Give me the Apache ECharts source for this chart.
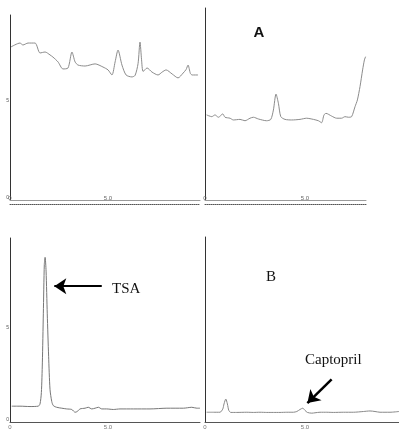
<!DOCTYPE html>
<html><head><meta charset="utf-8">
<script src="https://cdn.jsdelivr.net/npm/echarts@6/dist/echarts.min.js"></script>
<style>html,body{margin:0;padding:0;background:#fff}#c{width:399px;height:430px}</style>
</head><body><div id="c"></div>
<script>
// Panel A, left trace (time, response)
const aLeftX = [0.05,0.51,0.66,0.92,1.28,1.53,1.79,2.04,2.19,2.45,2.70,2.96,3.16,3.32,3.47,3.83,4.34,4.74,5.00,5.20,5.36,5.51,5.71,5.92,6.22,6.38,6.53,6.63,6.71,6.79,6.99,7.24,7.55,7.76,7.96,8.27,8.57,8.83,8.98,9.08,9.20,9.29,9.59];
const aLeftY = [7.86,8.06,7.96,8.06,8.06,7.55,7.60,7.45,7.34,7.09,6.73,6.78,7.60,7.09,6.93,6.88,6.99,6.83,6.68,6.42,7.09,7.70,6.93,6.42,6.32,6.40,7.00,8.11,7.20,6.60,6.78,6.57,6.42,6.57,6.68,6.47,6.27,6.52,6.70,6.93,6.50,6.42,6.42];
// Panel A, right trace
const aRightX = [0.08,0.34,0.50,0.67,0.89,1.00,1.25,1.42,1.75,2.00,2.25,2.42,2.67,3.08,3.29,3.42,3.55,3.67,3.79,4.00,4.33,4.75,5.08,5.42,5.67,5.83,5.95,6.05,6.33,6.58,6.83,7.00,7.17,7.33,7.50,7.62,7.75,7.88,7.97,8.03];
const aRightY = [4.37,4.28,4.37,4.25,4.42,4.25,4.20,4.11,4.14,4.07,4.20,4.25,4.16,4.07,4.14,4.62,5.44,4.97,4.28,4.14,4.11,4.14,4.20,4.14,4.07,3.97,4.37,4.45,4.31,4.20,4.20,4.28,4.25,4.28,4.79,5.14,5.82,6.68,7.19,7.36];
// Panel B, left trace
const bLeftX = [0.09,0.51,1.02,1.44,1.53,1.60,1.65,1.70,1.75,1.79,1.84,1.90,1.97,2.04,2.13,2.21,2.38,2.64,2.89,3.15,3.32,3.43,3.57,3.83,3.99,4.17,4.34,4.51,4.68,4.93,5.27,5.61,6.29,7.14,8.00,8.84,9.27,9.53,9.69];
const bLeftY = [0.86,0.86,0.84,0.86,0.98,1.60,3.21,5.88,8.56,8.95,8.20,5.88,3.57,1.78,1.11,0.89,0.80,0.75,0.71,0.68,0.53,0.57,0.71,0.75,0.80,0.71,0.75,0.80,0.71,0.71,0.68,0.71,0.71,0.71,0.75,0.75,0.80,0.75,0.75];
// Panel B, right trace
const bRightX = [0.08,0.42,0.75,0.89,0.95,1.04,1.12,1.19,1.29,1.59,2.09,2.42,2.75,3.09,3.42,3.75,4.09,4.42,4.59,4.75,4.89,5.00,5.12,5.34,5.50,5.75,6.09,6.42,6.92,7.42,7.92,8.25,8.50,8.75,9.25,9.70];
const bRightY = [0.53,0.53,0.53,0.71,0.98,1.25,0.98,0.63,0.52,0.52,0.53,0.52,0.53,0.52,0.52,0.52,0.53,0.53,0.57,0.68,0.75,0.63,0.52,0.48,0.50,0.53,0.53,0.52,0.53,0.53,0.57,0.60,0.57,0.53,0.53,0.57];
// Axis ticks
const xTickInterval = 5;
const yTickInterval = 5;
// Annotations
const tsaArrow = [[4.68, 7.38], [2.26, 7.38]];
const captoprilArrow = [[6.33, 2.32], [5.12, 1.03]];

const zip = (xs, ys) => xs.map((x, i) => [x, ys[i]]);
const fmt = v => v === 0 ? '0' : v.toFixed(1);

const grids = [
  {left: 10, top: 15, width: 190, height: 185},
  {left: 205, top: 8, width: 161, height: 192},
  {left: 10, top: 238, width: 190, height: 187},
  {left: 205, top: 237, width: 194, height: 188}
];
const xMax = [9.69, 8.05, 9.69, 9.70];
const yMax = [9.5, 9.86, 10, 10.05];

const xAxes = [];
const yAxes = [];
grids.forEach((g, i) => {
  const isA = i < 2;
  // main solid axis
  xAxes.push({
    gridIndex: i, type: 'value', min: 0, max: xMax[i], interval: xTickInterval,
    axisLine: {show: true, onZero: false, lineStyle: {color: isA ? '#9a9a9a' : '#555', width: 1}},
    axisTick: {show: false}, splitLine: {show: false},
    axisLabel: {show: !isA, fontSize: 6, color: '#777', margin: 2, showMaxLabel: false, formatter: fmt}
  });
  yAxes.push({
    gridIndex: i, type: 'value', min: 0, max: yMax[i], interval: yTickInterval,
    axisLine: {show: true, onZero: false, lineStyle: {color: '#333', width: 1}},
    axisTick: {show: false}, splitLine: {show: false},
    axisLabel: {show: i % 2 === 0, fontSize: 5, color: '#555', margin: 1, showMaxLabel: false, verticalAlign: 'bottom'}
  });
});
// dotted secondary axes under panel A
[0, 1].forEach(i => {
  xAxes.push({
    gridIndex: i, type: 'value', min: 0, max: xMax[i], interval: xTickInterval, position: 'bottom', offset: 4,
    axisLine: {show: true, onZero: false, lineStyle: {color: '#555', width: 1, type: [1, 1]}},
    axisTick: {show: false}, splitLine: {show: false},
    axisLabel: {show: true, fontSize: 6, color: '#666', margin: -3, showMaxLabel: false, verticalAlign: 'bottom', formatter: fmt}
  });
});

const lineStyle = {color: '#8c8c8c', width: 1};
const series = [
  {type: 'line', xAxisIndex: 0, yAxisIndex: 0, data: zip(aLeftX, aLeftY), showSymbol: false, smooth: 0.25, lineStyle},
  {type: 'line', xAxisIndex: 1, yAxisIndex: 1, data: zip(aRightX, aRightY), showSymbol: false, smooth: 0.25, lineStyle},
  {type: 'line', xAxisIndex: 2, yAxisIndex: 2, data: zip(bLeftX, bLeftY), showSymbol: false, smooth: 0.25,
    lineStyle: {color: '#777', width: 1},
    markLine: {silent: true, animation: false, symbol: ['none', 'arrow'], symbolSize: [12, 12],
      label: {show: false}, lineStyle: {color: '#000', width: 2, type: 'solid'},
      data: [[{coord: tsaArrow[0]}, {coord: tsaArrow[1]}]]}},
  {type: 'line', xAxisIndex: 3, yAxisIndex: 3, data: zip(bRightX, bRightY), showSymbol: false, smooth: 0.25,
    lineStyle: {color: '#888', width: 1},
    markLine: {silent: true, animation: false, symbol: ['none', 'arrow'], symbolSize: [12, 12],
      label: {show: false}, lineStyle: {color: '#000', width: 2.5, type: 'solid'},
      data: [[{coord: captoprilArrow[0]}, {coord: captoprilArrow[1]}]]}}
];

const serif = '"Liberation Serif", "DejaVu Serif", serif';
const chart = echarts.init(document.getElementById('c'), null, {renderer: 'canvas'});
chart.setOption({
  animation: false,
  backgroundColor: '#fff',
  grid: grids,
  xAxis: xAxes,
  yAxis: yAxes,
  series,
  graphic: [
    {type: 'text', x: 259, y: 33, style: {text: 'A', font: 'bold 15px "Liberation Sans", Arial, sans-serif', fill: '#111', textAlign: 'center', textVerticalAlign: 'middle'}},
    {type: 'text', x: 271, y: 277, style: {text: 'B', font: '15px ' + serif, fill: '#111', textAlign: 'center', textVerticalAlign: 'middle'}},
    {type: 'text', x: 112, y: 289, style: {text: 'TSA', font: '15px ' + serif, fill: '#111', textAlign: 'left', textVerticalAlign: 'middle'}},
    {type: 'text', x: 305, y: 360, style: {text: 'Captopril', font: '15px ' + serif, fill: '#111', textAlign: 'left', textVerticalAlign: 'middle'}}
  ]
});
</script>
</body></html>
